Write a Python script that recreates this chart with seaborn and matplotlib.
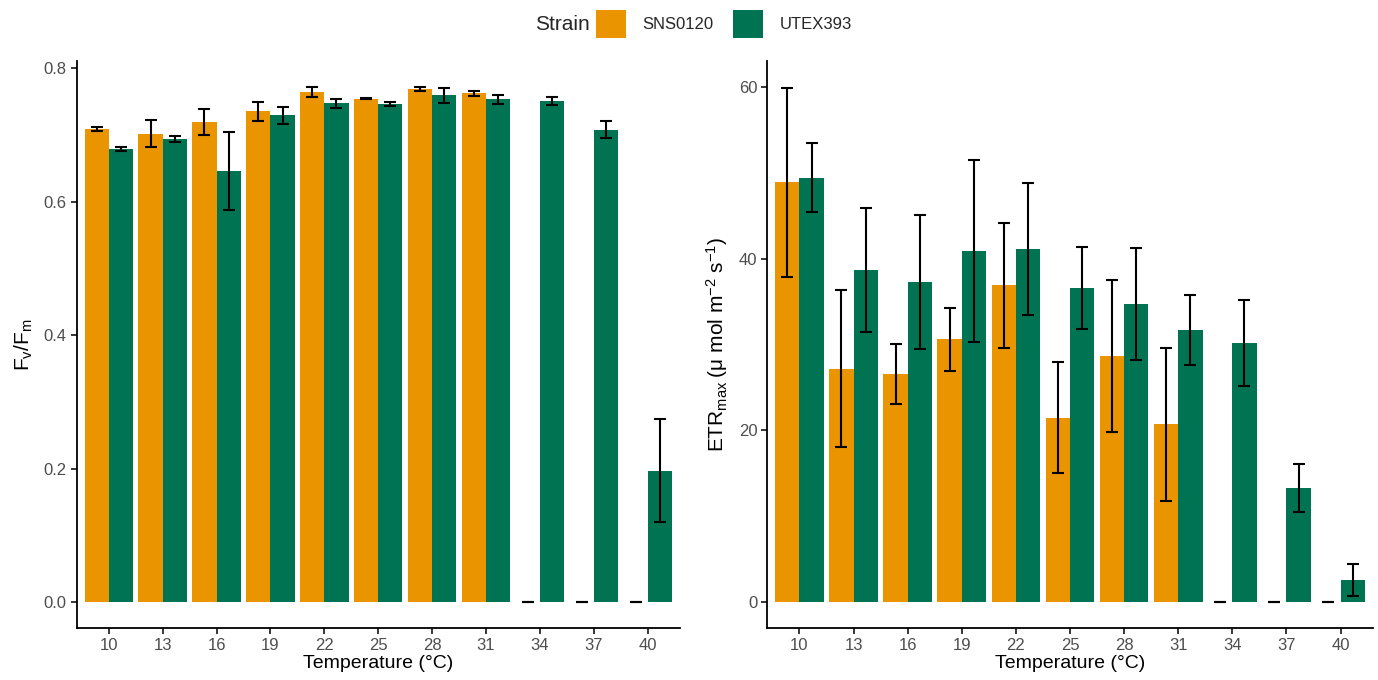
import numpy as np
import pandas as pd
import matplotlib
matplotlib.use("Agg")
import matplotlib.pyplot as plt
import seaborn as sns
from matplotlib.patches import Patch

temps = ["10", "13", "16", "19", "22", "25", "28", "31", "34", "37", "40"]
strains = ["SNS0120", "UTEX393"]

fvfm_sns = [0.709, 0.702, 0.719, 0.735, 0.764, 0.754, 0.769, 0.762, 0.0, 0.0, 0.0]
fvfm_sns_err = [0.003, 0.0195, 0.0198, 0.0138, 0.0073, 0.001, 0.0033, 0.004, 0.0, 0.0, 0.0]
fvfm_utex = [0.679, 0.694, 0.646, 0.729, 0.747, 0.746, 0.759, 0.753, 0.751, 0.708, 0.197]
fvfm_utex_err = [0.0025, 0.005, 0.058, 0.013, 0.0065, 0.0035, 0.0118, 0.0068, 0.0063, 0.012, 0.077]

etr_sns = [48.9, 27.2, 26.6, 30.6, 36.9, 21.5, 28.7, 20.7, 0.0, 0.0, 0.0]
etr_sns_err = [11.0, 9.1, 3.5, 3.7, 7.3, 6.5, 8.85, 8.9, 0.0, 0.0, 0.0]
etr_utex = [49.4, 38.7, 37.3, 40.9, 41.1, 36.6, 34.7, 31.7, 30.2, 13.3, 2.6]
etr_utex_err = [4.0, 7.2, 7.8, 10.6, 7.7, 4.8, 6.55, 4.1, 5.0, 2.8, 1.9]

colors = {"SNS0120": "#EA9400", "UTEX393": "#007353"}

def make_df(a, ae, b, be):
    return pd.DataFrame({
        "Temp": temps * 2,
        "Strain": ["SNS0120"] * len(temps) + ["UTEX393"] * len(temps),
        "val": list(a) + list(b),
        "err": list(ae) + list(be),
    })

df1 = make_df(fvfm_sns, fvfm_sns_err, fvfm_utex, fvfm_utex_err)
df2 = make_df(etr_sns, etr_sns_err, etr_utex, etr_utex_err)

sns.set_style("white")
plt.rcParams["font.family"] = ["Liberation Sans", "DejaVu Sans"]
plt.rcParams["mathtext.fontset"] = "custom"
plt.rcParams["mathtext.rm"] = "Liberation Sans"
plt.rcParams["mathtext.it"] = "Liberation Sans:italic"

W, H = 1378, 680
fig = plt.figure(figsize=(W / 100, H / 100), dpi=100)

def axes_px(x0, x1, y0, y1):
    return fig.add_axes([x0 / W, 1 - y1 / H, (x1 - x0) / W, (y1 - y0) / H])

ax1 = axes_px(76.5, 680, 61, 628)
ax2 = axes_px(767, 1373, 61, 628)

def draw(ax, df, ylim, yticks, yticklabels):
    sns.barplot(data=df, x="Temp", y="val", hue="Strain", order=temps,
                hue_order=strains, palette=colors, errorbar=None,
                width=0.9, ax=ax, saturation=1, linewidth=0, legend=False)
    for cont, s in zip(ax.containers, strains):
        sub = df[df["Strain"] == s].set_index("Temp").loc[temps]
        xs = [p.get_x() + p.get_width() / 2 for p in cont.patches]
        ax.errorbar(xs, sub["val"].values, yerr=sub["err"].values, fmt="none",
                    ecolor="black", elinewidth=1.5, capsize=4.5, capthick=1.5)
    ax.set_xlim(-0.6, len(temps) - 0.4)
    ax.set_ylim(*ylim)
    ax.set_yticks(yticks)
    ax.set_yticklabels(yticklabels)
    for sp in ["top", "right"]:
        ax.spines[sp].set_visible(False)
    for sp in ["left", "bottom"]:
        ax.spines[sp].set_color("black")
        ax.spines[sp].set_linewidth(1.3)
    ax.tick_params(axis="both", which="both", direction="out", length=4,
                   width=1.1, color="black", labelsize=12, labelcolor="#4D4D4D",
                   left=True, bottom=True, pad=3)
    ax.set_xlabel("Temperature (°C)", fontsize=14, color="black", labelpad=2)

draw(ax1, df1, (-0.0386, 0.8106), [0.0, 0.2, 0.4, 0.6, 0.8],
     ["0.0", "0.2", "0.4", "0.6", "0.8"])
ax1.set_ylabel(r"$\mathrm{F_v/F_m}$", fontsize=15, color="black", labelpad=6)

draw(ax2, df2, (-3.0, 63.0), [0, 20, 40, 60], ["0", "20", "40", "60"])
ax2.set_ylabel(r"$\mathrm{ETR_{max}}\;(\mathrm{\mu\ mol\ m^{-2}\ s^{-1}})$",
               fontsize=15, color="black", labelpad=6)

fig.text(562 / W, 1 - 25 / H, "Strain", fontsize=15, ha="center", va="center")
handles = [Patch(facecolor=colors[s], edgecolor="none", label=s) for s in strains]
fig.legend(handles=handles, loc="center", bbox_to_anchor=(724 / W, 1 - 24 / H),
           ncol=2, frameon=False, fontsize=12, handlelength=1.75, handleheight=2.2,
           handletextpad=1.0, columnspacing=1.2, borderaxespad=0)

fig.savefig("out.png", dpi=100, facecolor="white")
